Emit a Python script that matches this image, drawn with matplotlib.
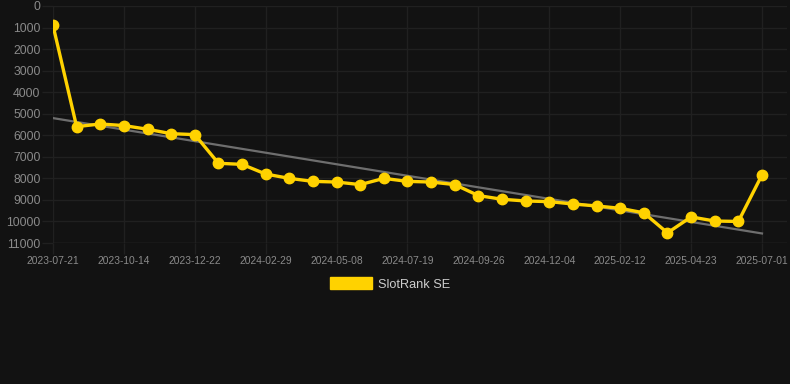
import matplotlib
matplotlib.use("Agg")
import matplotlib.pyplot as plt
from matplotlib.patches import Patch
import numpy as np

# data
tick_labels = ["2023-07-21", "2023-10-14", "2023-12-22", "2024-02-29", "2024-05-08",
               "2024-07-19", "2024-09-26", "2024-12-04", "2025-02-12", "2025-04-23",
               "2025-07-01"]
ranks = [900, 5600, 5475, 5550, 5720, 5925, 5970, 7300, 7350, 7800,
         8000, 8140, 8170, 8290, 8000, 8140, 8170, 8290, 8800, 8970,
         9050, 9080, 9190, 9280, 9390, 9600, 10530, 9790, 9980, 10000,
         7840]
series_name = "SlotRank SE"

BG = "#121212"
GRID = "#202020"
TXT = "#8a8a8a"
YEL = "#FFD200"

plt.rcParams['font.family'] = ['Liberation Sans', 'DejaVu Sans']

fig = plt.figure(figsize=(7.9, 3.84), dpi=100, facecolor=BG)
W, H = 790, 384
ax = fig.add_axes([53 / W, 1 - 243 / H, (787 - 53) / W, (243 - 6) / H])
ax.set_facecolor(BG)

x = np.arange(len(ranks))
y = np.array(ranks, dtype=float)

# trend line (least squares)
coef = np.polyfit(x, y, 1)
ax.plot([x[0], x[-1]], np.polyval(coef, [x[0], x[-1]]), color="#6e6e6e", lw=1.6, zorder=2)

ax.plot(x, y, color=YEL, lw=2.4, marker='o', markersize=7.5, markerfacecolor=YEL,
        markeredgecolor=YEL, zorder=3)

ax.set_ylim(11000, 0)
ax.set_xlim(0, 30 + 25 / 23.63)
ax.set_yticks(np.arange(0, 11001, 1000))
ax.set_yticklabels([str(v) for v in range(0, 11001, 1000)])
ax.set_xticks(np.arange(0, 31, 3))
ax.set_xticklabels(tick_labels)

ax.grid(True, color=GRID, lw=1.0)
ax.set_axisbelow(True)
for s in ax.spines.values():
    s.set_visible(False)
ax.axhline(11000, color="#2a2a2a", lw=1.0, zorder=1)
ax.tick_params(axis='y', colors=GRID, labelcolor=TXT, labelsize=8.8, length=8, width=1.0, pad=1)
ax.tick_params(axis='x', colors=GRID, labelcolor=TXT, labelsize=7.4, length=8, width=1.0, pad=1)

fig.legend(handles=[Patch(facecolor=YEL, edgecolor=YEL, label=series_name)],
           loc='center', bbox_to_anchor=(390 / W, 1 - 284 / H), frameon=False,
           handlelength=3.3, handleheight=1.0, handletextpad=0.5,
           fontsize=9.2, labelcolor="#cccccc")

fig.savefig("out.png", dpi=100, facecolor=BG)
